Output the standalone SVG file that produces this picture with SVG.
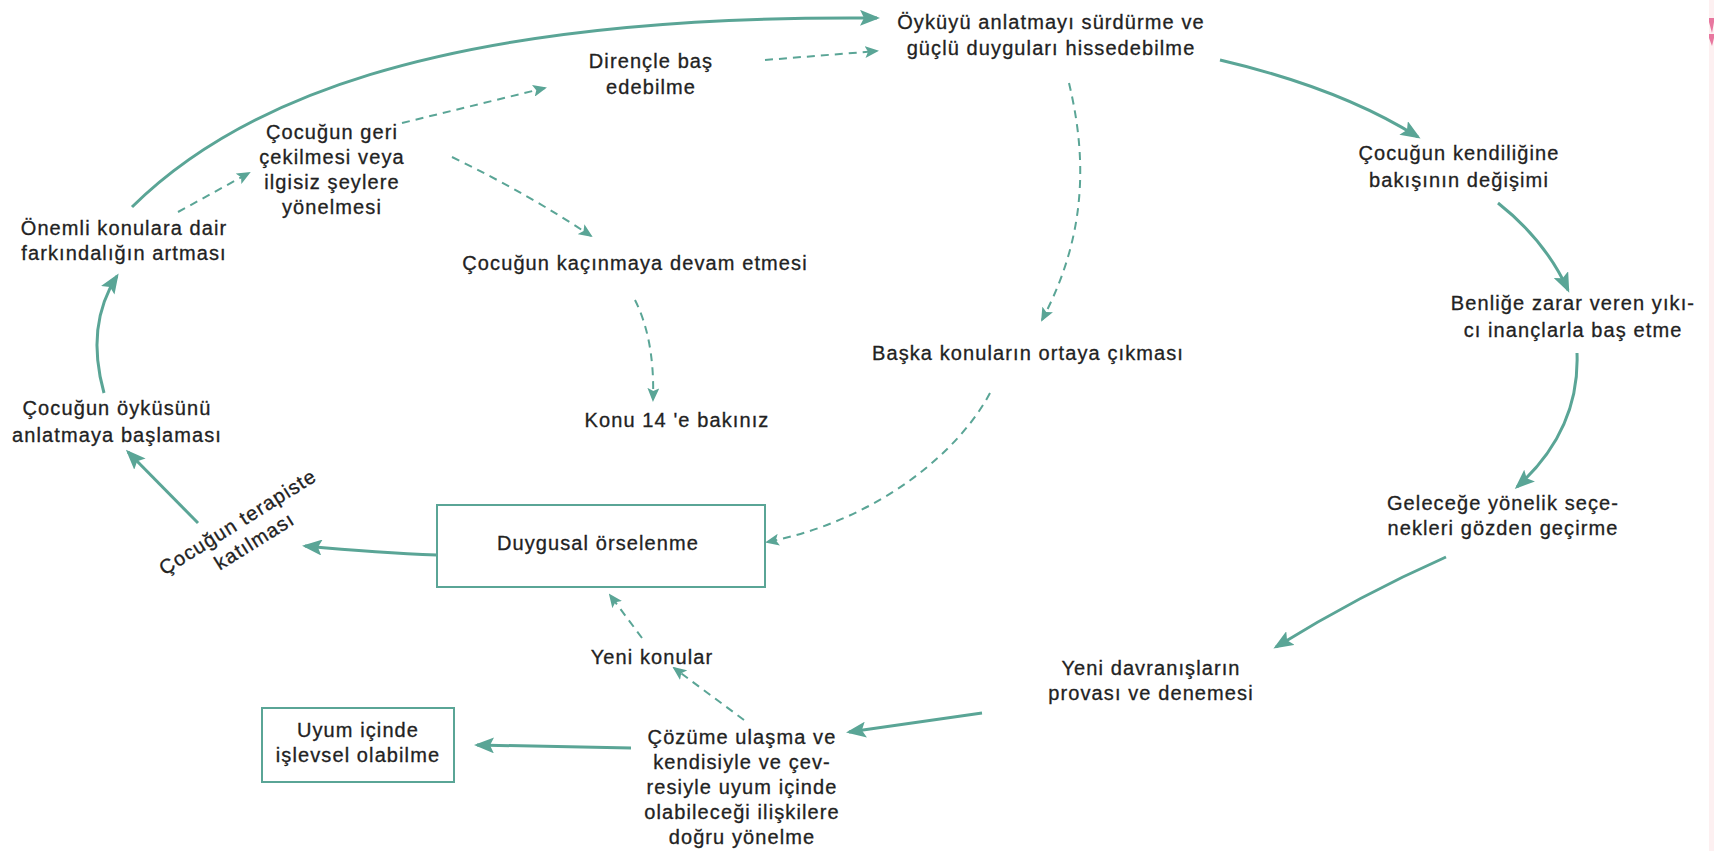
<svg xmlns="http://www.w3.org/2000/svg" width="1714" height="851" viewBox="0 0 1714 851">
<style>
text{font-family:"Liberation Sans",Arial,sans-serif;font-size:20px;fill:#222;stroke:#222;stroke-width:0.3;text-anchor:middle;letter-spacing:1.1px}
.s{fill:none;stroke:#5aa596;stroke-width:3}
.d{fill:none;stroke:#5aa596;stroke-width:2;stroke-dasharray:8 6}
.box{fill:#fff;stroke:#5aa596;stroke-width:2}
</style>
<defs>
<marker id="ah" viewBox="0 0 20 16" refX="17" refY="8" markerWidth="20" markerHeight="16" markerUnits="userSpaceOnUse" orient="auto">
<path d="M0,0 L20,8 L0,16 L4,8 z" fill="#5aa596"/>
</marker>
<marker id="ahd" viewBox="0 0 14 12" refX="12" refY="6" markerWidth="14" markerHeight="12" markerUnits="userSpaceOnUse" orient="auto">
<path d="M0,0 L14,6 L0,12 L3,6 z" fill="#5aa596"/>
</marker>
</defs>
<rect width="1714" height="851" fill="#fff"/>
<rect x="1709" y="0" width="5" height="851" fill="#fdf0f1"/>
<path d="M1709,18 L1714,18 L1714,22 L1712,33 L1709,22 z M1709,34 L1714,34 L1714,38 L1712,46 L1709,38 z" fill="#e8779f"/>

<g id="connectors">
<path class="s" d="M132,207 C230,110 420,14 877,18" marker-end="url(#ah)"/>
<path class="s" d="M1220,60 Q1340,88 1418,137" marker-end="url(#ah)"/>
<path class="s" d="M1498,203 Q1545,240 1568,290" marker-end="url(#ah)"/>
<path class="s" d="M1577,353 Q1580,430 1517,487" marker-end="url(#ah)"/>
<path class="s" d="M1446,557 Q1360,595 1276,647" marker-end="url(#ah)"/>
<path class="s" d="M982,713 L849,732" marker-end="url(#ah)"/>
<path class="s" d="M631,748 L477,745" marker-end="url(#ah)"/>
<path class="s" d="M437,555 Q380,553 305,546" marker-end="url(#ah)"/>
<path class="s" d="M198,523 L128,452" marker-end="url(#ah)"/>
<path class="s" d="M104,393 C92,350 95,310 117,276" marker-end="url(#ah)"/>

<path class="d" d="M178,212 L249,173" marker-end="url(#ahd)"/>
<path class="d" d="M402,123 L545,88" marker-end="url(#ahd)"/>
<path class="d" d="M765,60 L877,51" marker-end="url(#ahd)"/>
<path class="d" d="M452,157 Q530,195 591,236" marker-end="url(#ahd)"/>
<path class="d" d="M635,300 Q655,340 653,400" marker-end="url(#ahd)"/>
<path class="d" d="M1069,83 C1085,150 1090,230 1042,320" marker-end="url(#ahd)"/>
<path class="d" d="M990,393 C960,450 880,520 767,542" marker-end="url(#ahd)"/>
<path class="d" d="M744,720 L674,668" marker-end="url(#ahd)"/>
<path class="d" d="M642,638 L610,595" marker-end="url(#ahd)"/>
</g>

<g id="n-oykuyu"><text x="1051" y="29">Öyküyü anlatmayı sürdürme ve</text><text x="1051" y="55">güçlü duyguları hissedebilme</text></g>
<g id="n-direnc"><text x="651" y="68">Dirençle baş</text><text x="651" y="94">edebilme</text></g>
<g id="n-geri"><text x="332" y="139">Çocuğun geri</text><text x="332" y="164">çekilmesi veya</text><text x="332" y="189">ilgisiz şeylere</text><text x="332" y="214">yönelmesi</text></g>
<g id="n-onemli"><text x="124" y="235">Önemli konulara dair</text><text x="124" y="260">farkındalığın artması</text></g>
<g id="n-kacinma"><text x="635" y="270">Çocuğun kaçınmaya devam etmesi</text></g>
<g id="n-konu14"><text x="677" y="427">Konu 14 'e bakınız</text></g>
<g id="n-baska"><text x="1028" y="360">Başka konuların ortaya çıkması</text></g>
<g id="n-kendilik"><text x="1459" y="160">Çocuğun kendiliğine</text><text x="1459" y="187">bakışının değişimi</text></g>
<g id="n-benlik"><text x="1573" y="310">Benliğe zarar veren yıkı-</text><text x="1573" y="337">cı inançlarla baş etme</text></g>
<g id="n-gelecek"><text x="1503" y="510">Geleceğe yönelik seçe-</text><text x="1503" y="535">nekleri gözden geçirme</text></g>
<g id="n-davranis"><text x="1151" y="675">Yeni davranışların</text><text x="1151" y="700">provası ve denemesi</text></g>
<g id="n-cozum"><text x="742" y="744">Çözüme ulaşma ve</text><text x="742" y="769">kendisiyle ve çev-</text><text x="742" y="794">resiyle uyum içinde</text><text x="742" y="819">olabileceği ilişkilere</text><text x="742" y="844">doğru yönelme</text></g>
<g id="n-uyum"><rect class="box" x="262" y="708" width="192" height="74"/><text x="358" y="737">Uyum içinde</text><text x="358" y="762">işlevsel olabilme</text></g>
<g id="n-duygusal"><rect class="box" x="437" y="505" width="328" height="82"/><text x="598" y="550">Duygusal örselenme</text></g>
<g id="n-yenikonular"><text x="652" y="664">Yeni konular</text></g>
<g id="n-oykusunu"><text x="117" y="415">Çocuğun öyküsünü</text><text x="117" y="442">anlatmaya başlaması</text></g>
<g id="n-terapist" transform="translate(244,532) rotate(-32)"><text x="0" y="-5">Çocuğun terapiste</text><text x="4" y="20">katılması</text></g>
</svg>
